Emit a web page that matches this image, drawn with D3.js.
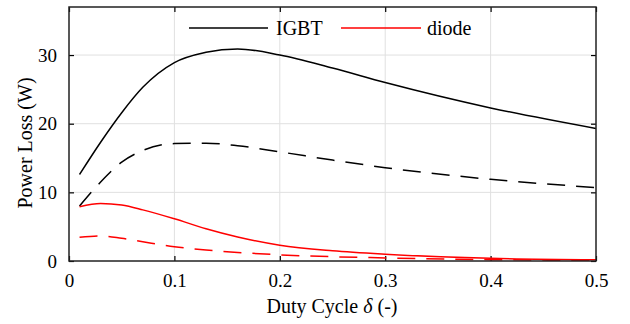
<!DOCTYPE html>
<html><head><meta charset="utf-8">
<script src="https://cdn.jsdelivr.net/npm/d3@7"></script>
<style>body{margin:0;background:#fff}svg{display:block}text{font-family:"Liberation Serif","Times New Roman",serif;fill:#000}</style>
</head><body>
<svg id="c" width="630" height="324"></svg>
<script>
const duty = [0.01,0.03,0.05,0.07,0.1,0.13,0.16,0.2,0.25,0.3,0.4,0.5];
const igbtSolid = [12.6,17.3,21.6,25.3,28.9,30.4,30.9,30.0,28.1,26.0,22.3,19.3];
const igbtDashed = [8.0,11.5,14.4,16.1,17.1,17.15,16.8,15.9,14.7,13.6,11.9,10.7];
const diodeSolid = [7.9,8.38,8.15,7.45,6.15,4.7,3.5,2.3,1.5,1.0,0.4,0.2];
const diodeDashed = [3.45,3.65,3.3,2.8,2.08,1.6,1.25,0.9,0.62,0.45,0.2,0.08];
const xTicks = [0,0.1,0.2,0.3,0.4,0.5];
const yTicks = [0,10,20,30];
const legendLabels = ["IGBT","diode"];

const svg = d3.select("#c");
const L=69,R=596,T=7,B=261;
const x = d3.scaleLinear().domain([0,0.5]).range([L,R]);
const y = d3.scaleLinear().domain([0,37]).range([B,T]);

// grid
svg.append("g").selectAll("line").data(xTicks.slice(1,-1)).join("line")
 .attr("x1",d=>x(d)).attr("x2",d=>x(d)).attr("y1",T).attr("y2",B)
 .attr("stroke","#e0e0e0").attr("stroke-width",1);
svg.append("g").selectAll("line").data(yTicks.slice(1)).join("line")
 .attr("x1",L).attr("x2",R).attr("y1",d=>y(d)).attr("y2",d=>y(d))
 .attr("stroke","#e0e0e0").attr("stroke-width",1);

// axes with inner ticks
const fmt = d=>d===0?"0":d3.format(".1f")(d);
const ax = (g)=>g.selectAll(".domain").remove();
svg.append("g").attr("transform",`translate(0,${B})`).call(d3.axisBottom(x).tickValues(xTicks).tickSize(-5).tickPadding(13).tickFormat(fmt)).call(ax);
svg.append("g").attr("transform",`translate(0,${T})`).call(d3.axisTop(x).tickValues(xTicks).tickSize(-5).tickFormat("")).call(ax);
svg.append("g").attr("transform",`translate(${L},0)`).call(d3.axisLeft(y).tickValues(yTicks).tickSize(-5).tickPadding(12)).call(ax);
svg.append("g").attr("transform",`translate(${R},0)`).call(d3.axisRight(y).tickValues(yTicks).tickSize(-5).tickFormat("")).call(ax);
svg.selectAll(".tick line").attr("stroke","#000").attr("stroke-width",1.2);
svg.selectAll(".tick text").attr("font-family","Liberation Serif").attr("font-size",19).attr("fill","#000");

// lines
const line = d3.line().x((d,i)=>x(duty[i])).y(d=>y(d)).curve(d3.curveMonotoneX);
const series = [
 {v:igbtSolid,c:"#000",dash:null},
 {v:igbtDashed,c:"#000",dash:"18,11"},
 {v:diodeSolid,c:"#ff0000",dash:null},
 {v:diodeDashed,c:"#ff0000",dash:"18,11"}
];
svg.append("defs").append("clipPath").attr("id","cp").append("rect").attr("x",L).attr("y",T).attr("width",R-L).attr("height",B-T);
svg.append("g").attr("clip-path","url(#cp)").selectAll("path").data(series).join("path")
 .attr("d",d=>line(d.v)).attr("fill","none").attr("stroke",d=>d.c).attr("stroke-width",1.5)
 .attr("stroke-dasharray",d=>d.dash);

// frame
svg.append("rect").attr("x",L).attr("y",T).attr("width",R-L).attr("height",B-T)
 .attr("fill","none").attr("stroke","#222").attr("stroke-width",1.5);

// legend
const lg = svg.append("g");
[[189,268,276,"#000"],[341,421,427,"#ff0000"]].forEach((p,i)=>{
 lg.append("line").attr("x1",p[0]).attr("x2",p[1]).attr("y1",28).attr("y2",28).attr("stroke",p[3]).attr("stroke-width",1.5);
 lg.append("text").attr("x",p[2]).attr("y",35).attr("font-size",20).text(legendLabels[i]);
});

// axis labels
svg.append("text").attr("transform",`translate(32,143) rotate(-90)`).attr("text-anchor","middle").attr("font-size",20).text("Power Loss (W)");
const xl = svg.append("text").attr("x",332).attr("y",313).attr("text-anchor","middle").attr("font-size",20);
xl.append("tspan").text("Duty Cycle ");
xl.append("tspan").attr("font-style","italic").text("δ");
xl.append("tspan").text(" (-)");
</script>
</body></html>
